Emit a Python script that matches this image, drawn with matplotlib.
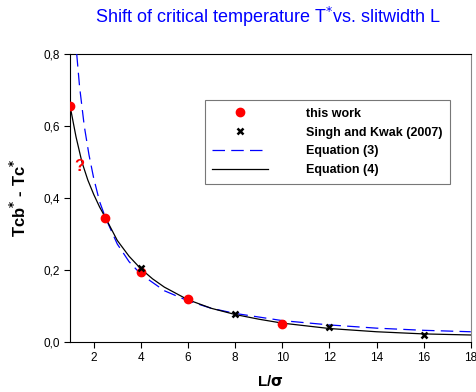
import matplotlib
matplotlib.use("Agg")
import matplotlib.pyplot as plt

plt.rcParams['font.family'] = ['Liberation Sans', 'DejaVu Sans']

# this work (red dots)
work_L = [1, 2.5, 4, 6, 10]
work_T = [0.655, 0.344, 0.193, 0.119, 0.049]

# Singh and Kwak (2007)
sk_L = [4, 8, 12, 16]
sk_T = [0.205, 0.077, 0.042, 0.018]

# Equation (3)
eq3_L = [1.28, 1.4, 1.6, 1.8, 2.0, 2.25, 2.5, 3, 3.5, 4, 5, 6, 7, 8, 10, 12, 14, 16, 18]
eq3_T = [0.80, 0.71, 0.60, 0.52, 0.455, 0.39, 0.345, 0.272, 0.223, 0.188, 0.142,
         0.114, 0.093, 0.079, 0.059, 0.047, 0.038, 0.032, 0.028]

# Equation (4)
eq4_L = [1.0, 1.25, 1.5, 1.75, 2.0, 2.25, 2.5, 3.0, 3.5, 4.0, 4.5, 5, 6, 7, 8, 9, 10, 12, 14, 16, 18]
eq4_T = [0.655, 0.57, 0.50, 0.45, 0.41, 0.375, 0.345, 0.282, 0.238, 0.203, 0.175,
         0.152, 0.117, 0.093, 0.076, 0.063, 0.052, 0.037, 0.028, 0.022, 0.019]

xticks = [2, 4, 6, 8, 10, 12, 14, 16, 18]
yticks = [0.0, 0.2, 0.4, 0.6, 0.8]
ytick_labels = ['0,0', '0,2', '0,4', '0,6', '0,8']

fig = plt.figure(figsize=(4.77, 3.92), dpi=100)
ax = fig.add_axes([0.147, 0.128, 0.84, 0.734])

ax.plot(work_L, work_T, 'o', color='red', markersize=6, label='this work', zorder=4)
ax.plot(sk_L, sk_T, 'x', color='black', markersize=5, markeredgewidth=1.8, label='Singh and Kwak (2007)', zorder=5)
ax.plot(eq3_L, eq3_T, color='blue', lw=0.9, dashes=(10, 5), label='Equation (3)', zorder=3)
ax.plot(eq4_L, eq4_T, color='black', lw=0.9, label='Equation (4)', zorder=3)

ax.text(1.39, 0.487, '?', color='red', fontsize=12, fontweight='bold', ha='center', va='center')

ax.set_xlim(1, 18)
ax.set_ylim(0, 0.8)
ax.set_xticks(xticks)
ax.set_yticks(yticks)
ax.set_yticklabels(ytick_labels)
ax.tick_params(direction='out', length=4, width=0.8, labelsize=8.5)
ax.spines['right'].set_color('#888888')

ax.set_xlabel(r'L/$\mathbf{\sigma}$', fontsize=11, fontweight='bold', labelpad=7)
ax.set_ylabel(r'Tcb$^{\mathbf{*}}$ - Tc$^{\mathbf{*}}$', fontsize=12, fontweight='bold', labelpad=10)

fig.text(0.562, 0.957, r'Shift of critical temperature T$^{*}$vs. slitwidth L', color='blue',
         fontsize=13, ha='center', va='center')

leg = ax.legend(loc='upper right', bbox_to_anchor=(0.948, 0.84), frameon=True, fancybox=False,
                prop={'weight': 'bold', 'size': 9}, handlelength=4.5, handletextpad=3.0,
                labelspacing=0.55, borderpad=0.6, borderaxespad=0)
leg.get_frame().set_edgecolor('#555555')
leg.get_frame().set_linewidth(0.8)

fig.savefig('out.png', dpi=100)
